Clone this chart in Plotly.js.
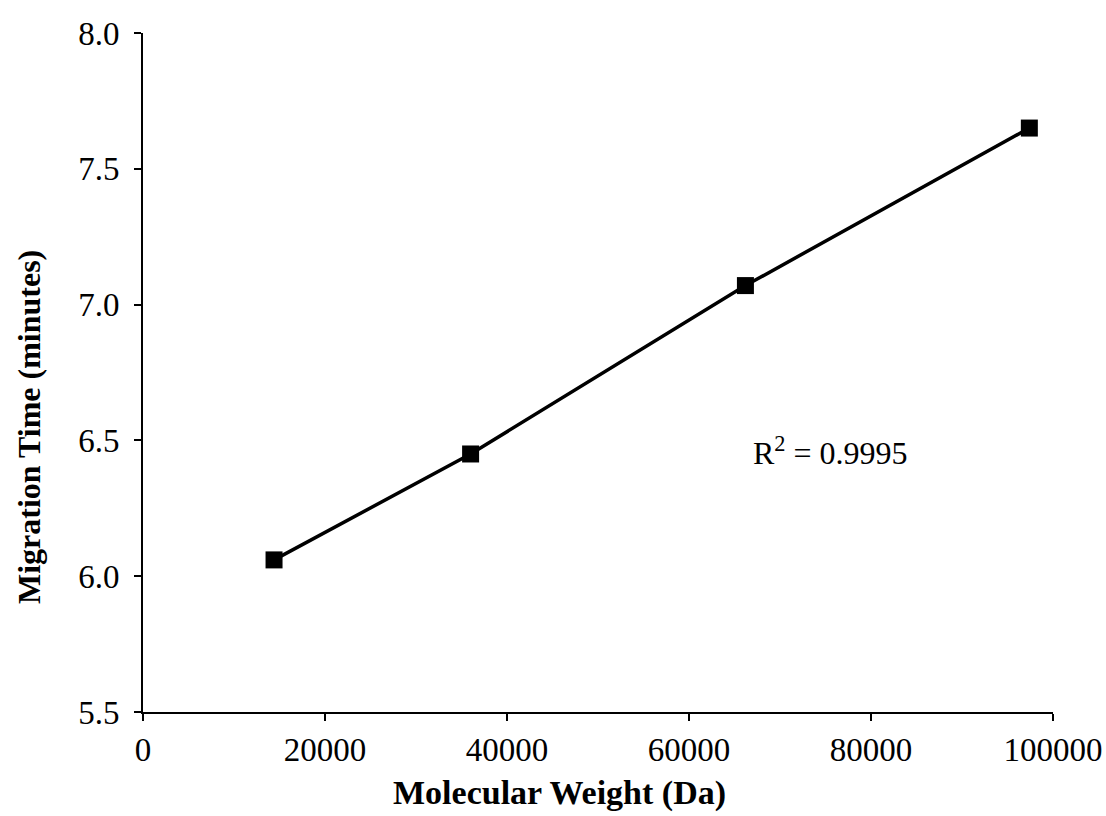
<!DOCTYPE html>
<html><head><meta charset="utf-8">
<script src="https://cdn.plot.ly/plotly-3.0.1.min.js"></script>
<style>body{margin:0;background:#fff}#chart{width:1106px;height:816px}</style>
</head><body><div id="chart"></div>
<script>
const molecularWeight = [14400, 36000, 66200, 97400];
const migrationTime = [6.06, 6.45, 7.07, 7.65];
const xTicks = [0, 20000, 40000, 60000, 80000, 100000];
const yTicks = [5.5, 6.0, 6.5, 7.0, 7.5, 8.0];
const rSquaredLabel = "R<sup>2</sup> = 0.9995";
const xTitle = "<b>Molecular Weight (Da)</b>";
const yTitle = "<b>Migration Time (minutes)</b>";

const serif = "Liberation Serif, Times New Roman, serif";
Plotly.newPlot('chart', [{
  x: molecularWeight, y: migrationTime, type: 'scatter', mode: 'lines+markers',
  line: {color: '#000', width: 3.5},
  marker: {symbol: 'square', size: 17, color: '#000'},
  cliponaxis: false
}], {
  width: 1106, height: 816,
  margin: {l: 143, r: 53, t: 33, b: 104},
  paper_bgcolor: '#fff', plot_bgcolor: '#fff',
  showlegend: false,
  font: {family: serif, color: '#000'},
  xaxis: {
    range: [0, 100000], tickvals: xTicks, ticktext: xTicks.map(String),
    showgrid: false, zeroline: false, showline: true, linecolor: '#000', linewidth: 2,
    ticks: 'outside', ticklen: 7, tickwidth: 2, tickcolor: '#000',
    tickfont: {family: serif, size: 33, color: '#000'}
  },
  yaxis: {
    range: [5.5, 8.0], tickvals: yTicks, ticktext: yTicks.map(v => v.toFixed(1)),
    showgrid: false, zeroline: false, showline: true, linecolor: '#000', linewidth: 2,
    ticks: 'outside', ticklen: 7, tickwidth: 2, tickcolor: '#000',
    ticklabelstandoff: 8,
    tickfont: {family: serif, size: 33, color: '#000'}
  },
  annotations: [
    {x: 75600, y: 6.46, xref: 'x', yref: 'y', text: rSquaredLabel, showarrow: false,
     font: {family: serif, size: 32, color: '#000'}},
    {x: 0.458, y: -0.119, xref: 'paper', yref: 'paper', text: xTitle, showarrow: false,
     xanchor: 'center', yanchor: 'middle', font: {family: serif, size: 34, color: '#000'}},
    {x: -0.125, y: 0.42, xref: 'paper', yref: 'paper', text: yTitle, showarrow: false,
     textangle: -90, xanchor: 'center', yanchor: 'middle', font: {family: serif, size: 32, color: '#000'}}
  ]
}, {displayModeBar: false, staticPlot: true});
</script></body></html>
